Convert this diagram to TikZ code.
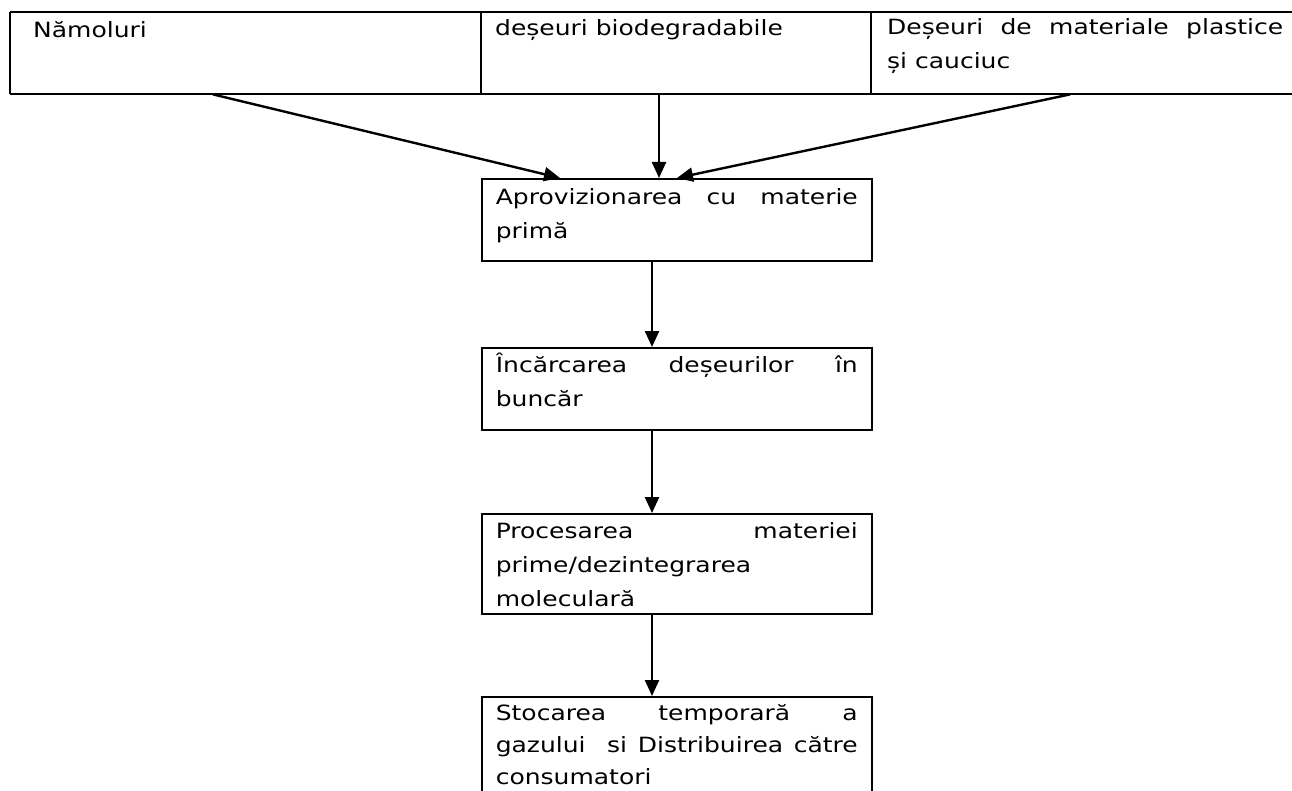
\documentclass[tikz,border=0pt]{standalone}
\usepackage{fontspec}
\setmainfont[FakeStretch=1.19]{DejaVu Sans}
\usetikzlibrary{arrows.meta,calc}
\hyphenpenalty=10000
\hbadness=10000
\tolerance=10000
\newcommand\cellbox[4]{\parbox[t][#1][t]{#2}{\rule{0pt}{#3}#4}}
\begin{document}
\begin{tikzpicture}[x=1pt,y=-1pt,
  every node/.style={inner ysep=0pt, anchor=north west, font=\fontsize{21}{34}\selectfont},
  cell/.style={inner xsep=#1},
  stepbox/.style={draw, line width=1.6pt, inner xsep=14pt},
  arr/.style={line width=2.4pt, -{Triangle[length=16pt,width=14pt]}},
  tline/.style={line width=2.2pt},
  vline/.style={line width=1.2pt}]
\useasboundingbox (0,0) rectangle (1292,791);
% top table
\node[cell=23pt] (c1) at (10,12) {\cellbox{82pt}{425pt}{25pt}{Nămoluri}};
\node[cell=14pt] (c2) at (481,12) {\cellbox{82pt}{362pt}{23pt}{deșeuri biodegradabile}};
\node[cell=16pt] (c3) at (871,12) {\cellbox{82pt}{396pt}{22pt}{Deșeuri de materiale plastice\linebreak și cauciuc}};
\draw[tline] (c1.north west) -- (c3.north east);
\draw[tline] (c1.south west) -- (c3.south east);
\draw[vline] (c1.north west) -- (c1.south west);
\draw[vline] (c2.north west) -- (c2.south west);
\draw[vline] (c3.north west) -- (c3.south west);
% process boxes
\node[stepbox] (b1) at (481,178) {\cellbox{82pt}{362pt}{26pt}{Aprovizionarea cu materie\linebreak primă}};
\node[stepbox] (b2) at (481,347) {\cellbox{82pt}{362pt}{25pt}{Încărcarea deșeurilor în\linebreak buncăr}};
\node[stepbox] (b3) at (481,513) {\cellbox{100pt}{362pt}{25pt}{Procesarea materiei\linebreak prime/dezintegrarea\\ moleculară}};
\node[stepbox, font=\fontsize{21}{32}\selectfont] (b4) at (481,696) {\cellbox{130pt}{362pt}{24pt}{Stocarea temporară a\linebreak gazului\ \ si Distribuirea către\linebreak consumatori}};
% arrows
\draw[arr] (213,0 |- c1.south) -- (560,0 |- b1.north);
\draw[arr] (659,0 |- c2.south) -- (659,0 |- b1.north);
\draw[arr] (1070,0 |- c3.south) -- (677,0 |- b1.north);
\draw[arr] (652,0 |- b1.south) -- (652,0 |- b2.north);
\draw[arr] (652,0 |- b2.south) -- (652,0 |- b3.north);
\draw[arr] (652,0 |- b3.south) -- (652,0 |- b4.north);
\end{tikzpicture}
\end{document}
